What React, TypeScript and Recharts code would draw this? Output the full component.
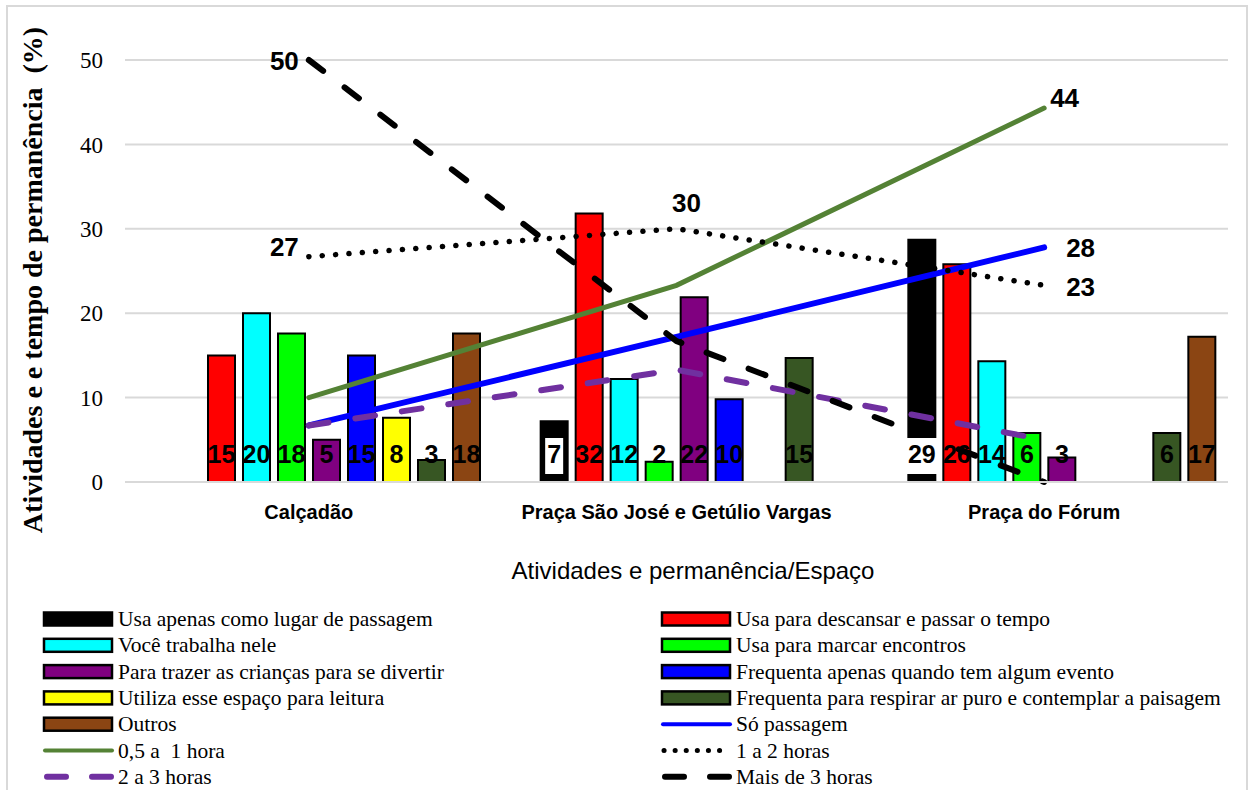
import { Bar, CartesianGrid, ComposedChart, LabelList, Line, XAxis, YAxis } from "recharts";

const categorias = ["Calçadão", "Praça São José e Getúlio Vargas", "Praça do Fórum"];

// barras (%)
const vazio = [null, null, null];
const passagem = [null, 7.2, 28.7];
const descansar = [15, 31.8, 25.8];
const trabalha = [20, 12.2, 14.3];
const encontros = [17.6, 2.4, 5.8];
const criancas = [5, 21.9, 2.9];
const evento = [15, 9.8, null];
const leitura = [7.6, null, null];
const respirar = [2.6, 14.7, 5.8];
const outros = [17.6, null, 17.2];

// linhas (%)
const soPassagem = [6.7, 17.2, 27.8];
const meiaAUmaHora = [10, 23.3, 44.3];
const umADuasHoras = [26.7, 30, 23.3];
const duasATresHoras = [6.7, 13.3, 5];
const maisDeTresHoras = [50, 16.7, 0];

const yTicks = [0, 10, 20, 30, 40, 50];

const barras = [
  { key: "passagem", nome: "Usa apenas como lugar de passagem", cor: "#000000", valores: passagem },
  { key: "descansar", nome: "Usa para descansar e passar o tempo", cor: "#ff0000", valores: descansar },
  { key: "trabalha", nome: "Você trabalha nele", cor: "#00ffff", valores: trabalha },
  { key: "encontros", nome: "Usa para marcar encontros", cor: "#00ff00", valores: encontros },
  { key: "criancas", nome: "Para trazer as crianças para se divertir", cor: "#800080", valores: criancas },
  { key: "evento", nome: "Frequenta apenas quando tem algum evento", cor: "#0000ff", valores: evento },
  { key: "leitura", nome: "Utiliza esse espaço para leitura", cor: "#ffff00", valores: leitura },
  { key: "respirar", nome: "Frequenta para respirar ar puro e contemplar a paisagem", cor: "#375623", valores: respirar },
  { key: "outros", nome: "Outros", cor: "#8b4513", valores: outros },
];

type Linha = {
  key: string;
  nome: string;
  cor: string;
  largura: number;
  traco?: string;
  valores: number[];
  rotulos: number[];
};

const linhas: Linha[] = [
  { key: "soPassagem", nome: "Só passagem", cor: "#0000ff", largura: 6, valores: soPassagem, rotulos: [2] },
  { key: "meia", nome: "0,5 a\u00a0\u00a01 hora", cor: "#548235", largura: 5, valores: meiaAUmaHora, rotulos: [2] },
  { key: "umADuas", nome: "1 a 2 horas", cor: "#000000", largura: 5.5, traco: "0.1 13.3", valores: umADuasHoras, rotulos: [0, 1, 2] },
  { key: "duasATres", nome: "2 a 3 horas", cor: "#7030a0", largura: 6, traco: "20 27", valores: duasATresHoras, rotulos: [] },
  { key: "maisDeTres", nome: "Mais de 3 horas", cor: "#000000", largura: 6, traco: "18 27", valores: maisDeTresHoras, rotulos: [0] },
];

const data = categorias.map((categoria, i) => {
  const row: Record<string, string | number | null> = { categoria, vazio: vazio[i] };
  barras.forEach((b) => (row[b.key] = b.valores[i]));
  linhas.forEach((l) => (row[l.key] = l.valores[i]));
  return row;
});

const numFont = "'Liberation Sans', Arial, sans-serif";
const serif = "'Liberation Serif', 'Times New Roman', serif";

function BarLabel(props: any) {
  const { x, y, width, height, value, boxed } = props;
  if (value == null) return null;
  const cx = Number(x) + Number(width) / 2;
  const base = Number(y) + Number(height);
  const txt = String(Math.round(Number(value)));
  const w = txt.length * 14 + 4;
  return (
    <g>
      {boxed && <rect x={cx - w / 2} y={base - 44} width={w} height={36} fill="#ffffff" />}
      <text x={cx} y={base - 19} textAnchor="middle" fontFamily={numFont} fontWeight="bold" fontSize={25} fill="#000">
        {txt}
      </text>
    </g>
  );
}

// deslocamento do rótulo de cada linha por ponto
const offsets: Record<string, { dx: number; dy: number; anchor: "start" | "middle" | "end" }[]> = {
  soPassagem: [{ dx: 0, dy: 0, anchor: "start" }, { dx: 0, dy: 0, anchor: "start" }, { dx: 22, dy: 10, anchor: "start" }],
  meia: [{ dx: 0, dy: 0, anchor: "start" }, { dx: 0, dy: 0, anchor: "start" }, { dx: 6, dy: -1, anchor: "start" }],
  umADuas: [{ dx: -10, dy: -1, anchor: "end" }, { dx: 10, dy: -17, anchor: "middle" }, { dx: 22, dy: 11, anchor: "start" }],
  maisDeTres: [{ dx: -10, dy: 10, anchor: "end" }, { dx: 0, dy: 0, anchor: "start" }, { dx: 0, dy: 0, anchor: "start" }],
};

function lineLabel(l: Linha) {
  return (props: any) => {
    const { x, y, value, index } = props;
    if (!l.rotulos.includes(index) || value == null) return null;
    const o = offsets[l.key][index];
    return (
      <text x={Number(x) + o.dx} y={Number(y) + o.dy} textAnchor={o.anchor} fontFamily={numFont} fontWeight="bold" fontSize={26} fill="#000">
        {Math.round(Number(value))}
      </text>
    );
  };
}

function CategoryTick(props: any) {
  const { x, y, payload } = props;
  return (
    <text x={x} y={y + 37} textAnchor="middle" fontFamily={numFont} fontWeight="bold" fontSize={20} fill="#000">
      {payload.value}
    </text>
  );
}

function Swatch({ item, x, y }: { item: any; x: number; y: number }) {
  if (item.tipo === "barra") {
    return <rect x={x} y={y - 6.5} width={68} height={13} fill={item.cor} stroke="#000" strokeWidth={2.5} />;
  }
  const l: Linha = item;
  if (l.traco && l.traco.startsWith("0.1")) {
    return <line x1={x + 2} x2={x + 68} y1={y} y2={y} stroke={l.cor} strokeWidth={5} strokeLinecap="round" strokeDasharray="0.1 11" />;
  }
  if (l.traco) {
    return (
      <g stroke={l.cor} strokeWidth={6} strokeLinecap="round">
        <line x1={x + 3} x2={x + 22} y1={y} y2={y} />
        <line x1={x + 48} x2={x + 67} y1={y} y2={y} />
      </g>
    );
  }
  return <line x1={x + 1} x2={x + 68} y1={y} y2={y} stroke={l.cor} strokeWidth={4} strokeLinecap="round" />;
}

const legendItems = [
  ...barras.map((b) => ({ ...b, tipo: "barra" })),
  ...linhas.map((l) => ({ ...l, tipo: "linha" })),
];

export default function App() {
  return (
    <div style={{ position: "absolute", left: 0, top: 0, width: 1248, height: 790, overflow: "hidden", background: "#fff" }}>
      <div style={{ position: "absolute", left: 6, top: 5, width: 1238, height: 800, border: "2px solid #d9d9d9" }} />
      <div style={{ position: "absolute", left: 0, top: 0 }}>
        <ComposedChart width={1248} height={600} data={data} margin={{ top: 60, right: 20, bottom: 78, left: 0 }} barSize={27} barGap={8}>
          <CartesianGrid vertical={false} stroke="#d9d9d9" strokeWidth={2} />
          <XAxis dataKey="categoria" axisLine={{ stroke: "#d9d9d9", strokeWidth: 2 }} tickLine={false} tickSize={0} tickMargin={0} height={40} interval={0} tick={<CategoryTick />} />
          <YAxis domain={[0, 50]} ticks={yTicks} width={125} axisLine={false} tickLine={false} tickSize={0} tickMargin={22} tick={{ fontFamily: serif, fontSize: 23, fill: "#000" }} />
          <Bar dataKey="vazio" fill="none" isAnimationActive={false} />
          {barras.map((b) => (
            <Bar key={b.key} dataKey={b.key} fill={b.cor} stroke="#000" strokeWidth={2} isAnimationActive={false}>
              <LabelList dataKey={b.key} content={<BarLabel boxed={b.key === "passagem"} />} />
            </Bar>
          ))}
          {linhas.map((l) => (
            <Line
              key={l.key}
              dataKey={l.key}
              type="linear"
              stroke={l.cor}
              strokeWidth={l.largura}
              strokeDasharray={l.traco}
              strokeLinecap="round"
              dot={false}
              activeDot={false}
              isAnimationActive={false}
            >
              <LabelList dataKey={l.key} content={lineLabel(l)} />
            </Line>
          ))}
        </ComposedChart>
      </div>
      <svg width={1248} height={790} style={{ position: "absolute", left: 0, top: 0, pointerEvents: "none" }}>
        <text
          transform="translate(42 280) rotate(-90)"
          textAnchor="middle"
          fontFamily={serif}
          fontWeight="bold"
          fontSize={28}
          fill="#000"
        >
          {"Atividades e e tempo de permanência\u00a0\u00a0(%)"}
        </text>
        <text x={693} y={579} textAnchor="middle" fontFamily={numFont} fontSize={24} fill="#000">
          Atividades e permanência/Espaço
        </text>
        {[0, 1].map((col) => {
          const items = col === 0
            ? [legendItems[0], legendItems[2], legendItems[4], legendItems[6], legendItems[8], legendItems[10], legendItems[12]]
            : [legendItems[1], legendItems[3], legendItems[5], legendItems[7], legendItems[9], legendItems[11], legendItems[13]];
          const x0 = col === 0 ? 44 : 662;
          return items.map((it, r) => {
            const y = 619 + r * 26.3;
            return (
              <g key={`${col}-${r}`}>
                <Swatch item={it} x={x0} y={y} />
                <text x={x0 + 74} y={y + 7} fontFamily={serif} fontSize={21.5} fill="#000">
                  {it.nome}
                </text>
              </g>
            );
          });
        })}
      </svg>
    </div>
  );
}
